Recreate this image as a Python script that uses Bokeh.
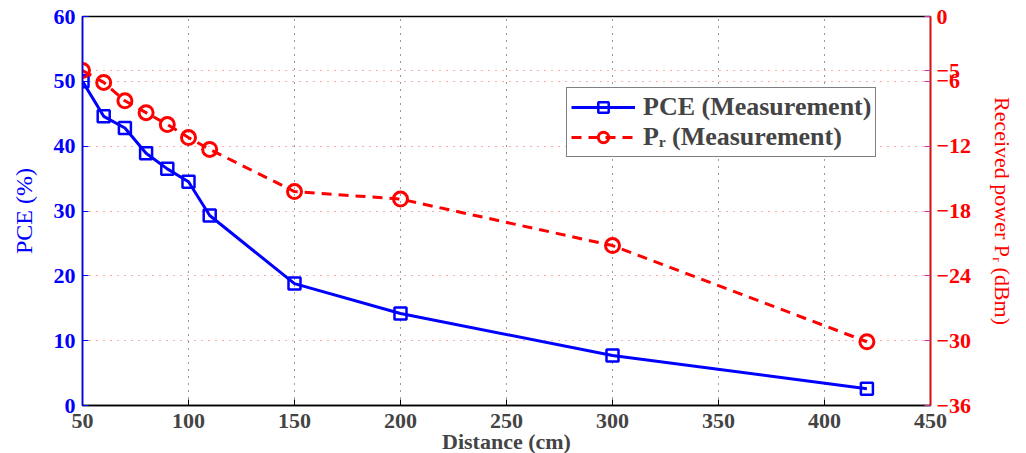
from bokeh.plotting import figure
from bokeh.models import (Range1d, LinearAxis, FixedTicker, Grid, Legend, LegendItem)
from bokeh.embed import file_html
from bokeh.resources import INLINE

# Measured power conversion efficiency and received power versus distance
distance = [50, 60, 70, 80, 90, 100, 110, 150, 200, 300, 420]
pce = [50.0, 44.6, 42.8, 38.9, 36.5, 34.5, 29.3, 18.8, 14.2, 7.7, 2.6]
pr = [-5.0, -6.1, -7.8, -8.9, -10.0, -11.2, -12.3, -16.2, -16.9, -21.2, -30.1]

x_ticks = [50, 100, 150, 200, 250, 300, 350, 400, 450]
pce_ticks = [0, 10, 20, 30, 40, 50, 60]
pr_ticks = [0, -5, -6, -12, -18, -24, -30, -36]

BLUE = "#0000FF"
RED = "#FF0000"
FONT = "Liberation Serif"
TICK_SIZE = "22px"

p = figure(output_backend="svg", toolbar_location=None,
           frame_width=848, frame_height=389,
           x_range=Range1d(50, 450), y_range=Range1d(0, 60),
           min_border_left=82, min_border_right=96, min_border_top=16,
           min_border_bottom=48, outline_line_color="black", outline_line_width=1.5)
p.extra_y_ranges = {"pr": Range1d(-36, 0)}

# grids: vertical black dotted, horizontal red dotted from the right axis ticks
p.xgrid.ticker = FixedTicker(ticks=x_ticks)
p.xgrid.grid_line_color = "#333333"
p.xgrid.grid_line_dash = "1 6"
p.xgrid.grid_line_width = 1
p.ygrid.visible = False
pr_grid = Grid(dimension=1, y_range_name="pr", ticker=FixedTicker(ticks=pr_ticks),
               grid_line_color="#ff5555", grid_line_dash="1 6", grid_line_width=1)
p.add_layout(pr_grid)

# bottom axis
xa = p.xaxis[0]
xa.ticker = FixedTicker(ticks=x_ticks)
xa.axis_label = "Distance (cm)"
xa.axis_label_text_font = FONT
xa.axis_label_text_font_style = "bold"
xa.axis_label_text_font_size = "22px"
xa.axis_label_standoff = -2
xa.major_label_text_font = FONT
xa.major_label_text_font_style = "bold"
xa.major_label_text_font_size = TICK_SIZE
xa.major_label_standoff = 8
xa.major_tick_in = 6
xa.major_tick_out = 0
xa.minor_tick_line_color = None
xa.axis_line_color = "black"
xa.axis_line_width = 1.5

# left axis (PCE)
ya = p.yaxis[0]
ya.ticker = FixedTicker(ticks=pce_ticks)
ya.axis_label = "PCE (%)"
ya.axis_label_text_color = BLUE
ya.axis_label_text_font = FONT
ya.axis_label_text_font_style = "normal"
ya.axis_label_text_font_size = "24px"
ya.axis_label_standoff = 14
ya.major_label_text_color = BLUE
ya.major_label_text_font = FONT
ya.major_label_text_font_style = "bold"
ya.major_label_text_font_size = TICK_SIZE
ya.major_label_standoff = 7
ya.major_tick_in = 6
ya.major_tick_out = 0
ya.major_tick_line_color = BLUE
ya.minor_tick_line_color = None
ya.axis_line_color = BLUE
ya.axis_line_width = 1.5

# right axis (received power)
ra = LinearAxis(y_range_name="pr", ticker=FixedTicker(ticks=pr_ticks))
ra.major_label_overrides = {t: ("\u2212" + str(-t)) if t < 0 else str(t) for t in pr_ticks}
ra.axis_label = "Received power P\u1d63 (dBm)"
ra.axis_label_text_color = RED
ra.axis_label_text_font = FONT
ra.axis_label_text_font_style = "normal"
ra.axis_label_text_font_size = "22px"
ra.axis_label_standoff = 16
ra.major_label_text_color = RED
ra.major_label_text_font = FONT
ra.major_label_text_font_style = "bold"
ra.major_label_text_font_size = TICK_SIZE
ra.major_label_standoff = 6
ra.major_tick_in = 6
ra.major_tick_out = 0
ra.major_tick_line_color = "#cc3399"
ra.minor_tick_line_color = None
ra.axis_line_color = RED
ra.axis_line_width = 1.5
p.add_layout(ra, "right")

# series
pce_line = p.line(distance, pce, line_color=BLUE, line_width=3)
pce_pts = p.scatter(distance, pce, marker="square", size=12, line_color=BLUE,
                    line_width=2.5, fill_alpha=0)
pr_line = p.line(distance, pr, y_range_name="pr", line_color=RED, line_width=3,
                 line_dash="10 7")
pr_pts = p.scatter(distance, pr, y_range_name="pr", marker="circle", size=14,
                   line_color=RED, line_width=3, fill_alpha=0)

legend = Legend(items=[
    LegendItem(label="PCE (Measurement)", renderers=[pce_line, pce_pts]),
    LegendItem(label="P\u1d63 (Measurement)", renderers=[pr_line, pr_pts]),
], location=(484, 248))
legend.label_text_font = FONT
legend.label_text_font_style = "bold"
legend.label_text_font_size = "26px"
legend.label_text_line_height = 1.0
legend.label_standoff = 8
legend.glyph_width = 64
legend.glyph_height = 26
legend.label_height = 26
legend.spacing = 0
legend.padding = 4
legend.margin = 0
legend.border_line_color = "black"
legend.border_line_width = 1.5
legend.background_fill_alpha = 1
p.add_layout(legend, "center")

open("out.html", "w").write(file_html(p, INLINE))
